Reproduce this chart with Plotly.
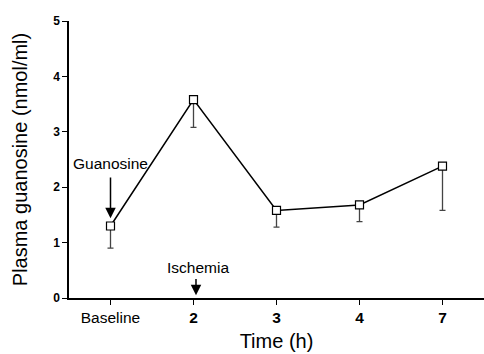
import plotly.graph_objects as go

categories = ["Baseline", "2", "3", "4", "7"]
means = [1.3, 3.58, 1.58, 1.68, 2.38]
lower_err = [0.4, 0.5, 0.3, 0.3, 0.8]
y_ticks = [0, 1, 2, 3, 4, 5]

FONT = "Liberation Sans, Arial, sans-serif"
xpos = list(range(len(categories)))
ticktext = [c if not c.isdigit() else "<b>" + c + "</b>" for c in categories]

fig = go.Figure()
fig.add_trace(go.Scatter(
    x=xpos, y=means, mode="lines+markers",
    line=dict(color="black", width=1.5),
    marker=dict(symbol="square", size=8, color="white", line=dict(width=1.2, color="black")),
    error_y=dict(type="data", symmetric=False, array=[0] * len(means),
                 arrayminus=lower_err, color="#444", thickness=1.3, width=3),
    showlegend=False,
))

fig.add_annotation(x=0, y=2.42, text="Guanosine", showarrow=False,
                   font=dict(family=FONT, size=15.5, color="black"))
fig.add_annotation(x=0, y=1.44, ax=0, ay=2.2, axref="x", ayref="y", text="",
                   showarrow=True, arrowhead=2, arrowsize=1.4, arrowwidth=1.5,
                   arrowcolor="black")
fig.add_annotation(x=1.06, y=0.55, text="Ischemia", showarrow=False,
                   font=dict(family=FONT, size=15.5, color="black"))
fig.add_annotation(x=1.03, y=0.05, ax=1.03, ay=0.37, axref="x", ayref="y", text="",
                   showarrow=True, arrowhead=2, arrowsize=1.4, arrowwidth=1.5,
                   arrowcolor="black")

fig.update_layout(
    width=484, height=354,
    margin=dict(l=69, r=0, t=21, b=56),
    plot_bgcolor="white", paper_bgcolor="white",
    font=dict(family=FONT, color="black"),
    xaxis=dict(range=[-0.5, 4.5], tickvals=xpos, ticktext=ticktext,
               ticks="outside", ticklen=5, tickwidth=1.2, tickcolor="black",
               showline=True, linecolor="black", linewidth=1.5,
               showgrid=False, zeroline=False,
               tickfont=dict(family=FONT, size=15.5, color="black"),
               title=dict(text="Time (h)", font=dict(family=FONT, size=20), standoff=9)),
    yaxis=dict(range=[0, 5], tickvals=y_ticks,
               ticks="outside", ticklen=5, tickwidth=1.2, tickcolor="black",
               showline=True, linecolor="black", linewidth=1.5,
               showgrid=False, zeroline=False,
               tickfont=dict(family=FONT, size=12, color="black", weight="bold"),
               title=dict(text="Plasma guanosine (nmol/ml)", font=dict(family=FONT, size=20), standoff=20)),
)

fig.write_html("out.html", config={"displayModeBar": False},
               post_script="document.body.style.margin='0';")
